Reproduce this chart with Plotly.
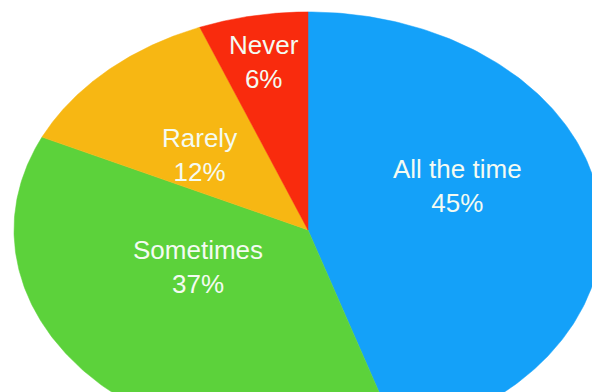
import numpy as np
import plotly.graph_objects as go

# ---- data ----
categories = ["All the time", "Sometimes", "Rarely", "Never"]
values = [45, 37, 12, 6]
colors = ["#14A1F9", "#5CD23B", "#F7B713", "#F92B0D"]

# ---- label anchors (layout only, in axis units) ----
label_pos = [(0.51, 0.20), (-0.375, -0.17), (-0.37, 0.345), (-0.15, 0.77)]

fig = go.Figure()
total = sum(values)
start = 0.0
for cat, val, col in zip(categories, values, colors):
    frac = val / total
    a0, a1 = start * 2 * np.pi, (start + frac) * 2 * np.pi
    t = np.linspace(a0, a1, 200)
    xs = np.concatenate([[0], np.sin(t), [0]])
    ys = np.concatenate([[0], np.cos(t), [0]])
    fig.add_trace(go.Scatter(x=xs, y=ys, mode="lines", fill="toself",
                             fillcolor=col, line=dict(color=col, width=0.5),
                             hoverinfo="text", text=f"{cat}: {val}%",
                             showlegend=False))
    start += frac

for (lx, ly), cat, val in zip(label_pos, categories, values):
    fig.add_annotation(x=lx, y=ly, text=f"{cat}<br>{val}%", showarrow=False,
                       font=dict(family="Liberation Sans, Arial, sans-serif",
                                 size=26, color="#F4FBF2"))

fig.update_layout(
    width=600, height=392,
    margin=dict(l=0, r=0, t=0, b=0),
    paper_bgcolor="white", plot_bgcolor="white",
    xaxis=dict(range=[-1.0204, 1.0204], visible=False, fixedrange=True),
    yaxis=dict(range=[-0.780, 1.018], visible=False, fixedrange=True),
)
fig.write_html("out.html")
